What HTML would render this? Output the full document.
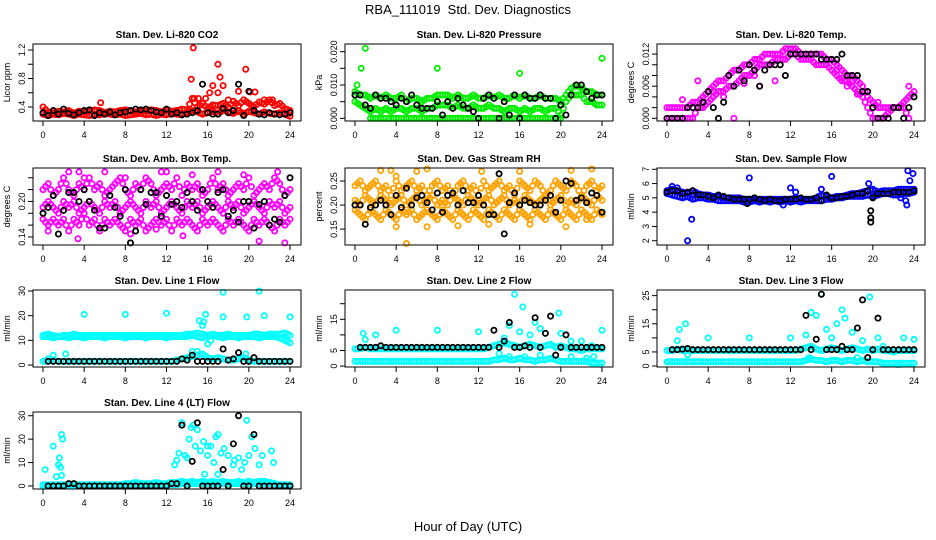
<!DOCTYPE html>
<html><head><meta charset="utf-8"><style>
body{margin:0;background:#fff;}
svg{display:block;font-family:"Liberation Sans",sans-serif;}
</style></head><body>
<svg id="chart" width="936" height="540" viewBox="0 0 936 540">
<text x="468" y="14" text-anchor="middle" font-size="13" style="white-space:pre">RBA_111019  Std. Dev. Diagnostics</text>
<text x="468" y="531" text-anchor="middle" font-size="13">Hour of Day (UTC)</text>
</svg>
<script>
// ---- data (values at 0.5 h steps, index i -> hour i*0.5) ----
const xTicks=[0,4,8,12,16,20,24];
const co2Red1=[0.4,0.33,0.32,0.34,0.33,0.35,0.31,0.34,0.33,0.34,0.36,0.35,0.32,0.34,0.33,0.35,0.36,0.34,0.33,0.35,0.34,0.36,0.35,0.33,0.36,0.34,0.35,0.37,0.36,0.52,0.4,0.45,0.38,0.43,0.42,0.45,0.4,0.48,0.42,0.5,0.45,0.4,0.47,0.44,0.5,0.42,0.45,0.38,0.35];
const co2Red2=[0.3,0.28,0.3,0.29,0.31,0.3,0.28,0.3,0.29,0.28,0.3,0.29,0.31,0.3,0.29,0.3,0.28,0.29,0.3,0.31,0.29,0.3,0.28,0.3,0.29,0.31,0.3,0.29,0.32,0.35,0.33,0.3,0.32,0.34,0.3,0.36,0.33,0.31,0.35,0.3,0.34,0.32,0.3,0.33,0.31,0.3,0.32,0.3,0.27];
const co2RedOut=[[14.6,1.23],[14.4,0.79],[14.7,0.52],[15.1,0.52],[15.8,0.52],[16.2,0.6],[16.5,0.7],[17,1.0],[17.2,0.82],[17.5,0.7],[17,0.6],[19,0.62],[19.7,0.93],[20.1,0.61],[20.6,0.61],[5.6,0.46],[21.5,0.5],[22.3,0.5],[18,0.5]];
const co2Black=[0.32,0.28,0.35,0.3,0.37,0.31,0.29,0.32,0.35,0.36,0.28,0.32,0.3,0.33,0.29,0.32,0.33,0.35,0.37,0.36,0.37,0.35,0.33,0.32,0.37,0.3,0.32,0.29,0.3,0.32,0.35,0.72,0.32,0.3,0.3,0.38,0.32,0.35,0.72,0.28,0.62,0.35,0.3,0.29,0.32,0.3,0.29,0.3,0.32];

const presGreen1=[0.008,0.007,0.007,0.006,0.007,0.006,0.007,0.006,0.006,0.007,0.005,0.006,0.006,0.005,0.006,0.006,0.007,0.007,0.007,0.006,0.007,0.006,0.006,0.007,0.006,0.006,0.007,0.006,0.007,0.006,0.006,0.007,0.006,0.007,0.006,0.006,0.007,0.006,0.006,0.006,0.005,0.007,0.009,0.010,0.009,0.008,0.008,0.007,0.007];
const presGreen2=[0.005,0.004,0.003,0.002,0.003,0.002,0.003,0.002,0.003,0.003,0.002,0.003,0.003,0.002,0.003,0.003,0.004,0.004,0.004,0.003,0.004,0.003,0.003,0.004,0.003,0.003,0.004,0.003,0.003,0.002,0.003,0.003,0.002,0.003,0.002,0.003,0.003,0.002,0.003,0.003,0.001,0.005,0.007,0.007,0.007,0.005,0.005,0.004,0.004];
const presGreen3=[null,null,null,0,0,0,0,0,0,0,0,0,0,0,0,0,0,0,0,0,0,0,0,0,0,0,0,0,0,0,0,0,0,0,0,0,0,0,0,0,0,null,null,null,null,null,null,null,null];
const presGreenOut=[[0.2,0.01],[0.6,0.015],[1,0.021],[8,0.015],[16,0.0135],[24,0.018]];
const presBlack=[0.007,0.007,0.004,0.003,0.007,0.006,0.006,0.005,0.004,0.006,0.005,0.007,0.004,0.003,0.003,0.003,0.005,0.001,0.005,0.003,0.006,0.004,0.003,0.002,0.000,0.006,0.007,0.006,0.000,0.005,0.001,0.007,0.000,0.007,0.006,0.006,0.007,0.006,0.006,0.000,0.004,0.001,0.007,0.010,0.010,0.008,0.006,0.007,0.007];

const tempMag1=[0.002,0.002,0.002,0.002,0.002,0.003,0.003,0.004,0.005,0.006,0.007,0.007,0.008,0.009,0.009,0.010,0.010,0.011,0.011,0.012,0.012,0.012,0.012,0.013,0.013,0.013,0.012,0.012,0.012,0.012,0.012,0.011,0.011,0.010,0.009,0.008,0.008,0.007,0.006,0.004,0.003,0.002,0.002,0.002,0.002,0.002,0.003,0.004,0.005];
const tempMag2=[0,0,0,0,0,0,0.002,0.002,0.003,0.004,0.005,0.005,0.006,0.006,0.007,0.008,0.008,0.009,0.010,0.010,0.010,0.011,0.011,0.011,0.012,0.012,0.011,0.011,0.011,0.010,0.010,0.010,0.009,0.008,0.007,0.007,0.006,0.005,0.004,0.002,0,0,0,0.001,0.002,0.002,0.002,0,null];
const tempMagOut=[[1.5,0.0035],[3,0.007],[6.5,0],[9,0.006],[10.5,0.007],[17.5,0.006],[18.5,0.0045],[20.5,0.003],[23.5,0.006],[4.5,0.005],[5.5,0.004],[7.5,0.0065],[8.5,0.008],[16.5,0.009],[17,0.0075],[18,0.007],[19,0.005]];
const tempBlack=[0.000,0.000,0.000,0.000,0.002,0.002,0.002,0.003,0.005,0.002,0.000,0.003,0.008,0.006,0.009,0.007,0.010,0.009,0.006,0.009,0.010,0.010,0.010,0.008,0.012,0.012,0.012,0.012,0.012,0.012,0.011,0.011,0.011,0.011,0.012,0.008,0.008,0.008,0.005,0.005,0.002,0.000,0.000,0.000,0.002,0.002,0.000,0.002,0.004];

const ambMag1=[0.22,0.23,0.21,0.22,0.24,0.22,0.21,0.23,0.22,0.24,0.22,0.23,0.21,0.22,0.23,0.24,0.22,0.21,0.23,0.22,0.24,0.23,0.21,0.22,0.23,0.22,0.24,0.21,0.23,0.22,0.23,0.21,0.22,0.24,0.22,0.23,0.21,0.22,0.23,0.22,0.24,0.21,0.22,0.23,0.22,0.24,0.23,0.21,0.22];
const ambMag2=[0.19,0.2,0.19,0.18,0.2,0.19,0.2,0.18,0.19,0.2,0.19,0.18,0.2,0.19,0.2,0.18,0.19,0.2,0.19,0.18,0.2,0.19,0.2,0.18,0.19,0.2,0.19,0.18,0.2,0.19,0.2,0.18,0.19,0.2,0.19,0.18,0.2,0.19,0.2,0.18,0.19,0.2,0.19,0.18,0.2,0.19,0.2,0.18,0.19];
const ambMag3=[0.17,0.16,0.17,0.16,0.17,0.15,0.17,0.16,0.18,0.16,0.17,0.15,0.17,0.16,0.17,0.16,0.15,0.17,0.16,0.17,0.15,0.16,0.17,0.16,0.17,0.15,0.17,0.16,0.17,0.16,0.15,0.17,0.16,0.17,0.16,0.15,0.17,0.16,0.17,0.16,0.15,0.17,0.16,0.17,0.16,0.15,0.17,0.16,0.17];
const ambMagOut=[[0.5,0.15],[2.5,0.25],[3.5,0.25],[4,0.24],[6,0.25],[8,0.24],[11.5,0.25],[12,0.25],[14.5,0.245],[17,0.25],[19.5,0.245],[22.8,0.25],[3.4,0.137],[21,0.133],[23.5,0.13],[13.6,0.142],[8.5,0.145],[11,0.153]];
const ambBlack=[0.18,0.19,0.21,0.145,0.185,0.215,0.215,0.2,0.22,0.2,0.185,0.155,0.155,0.21,0.19,0.175,0.22,0.13,0.15,0.22,0.195,0.215,0.215,0.175,0.21,0.195,0.2,0.19,0.215,0.2,0.185,0.22,0.2,0.19,0.215,0.22,0.175,0.185,0.165,0.2,0.2,0.155,0.195,0.2,0.16,0.17,0.165,0.21,0.24];

const rhOr1=[0.24,0.25,0.23,0.24,0.25,0.23,0.24,0.22,0.25,0.23,0.24,0.25,0.23,0.24,0.22,0.24,0.25,0.23,0.24,0.22,0.24,0.25,0.23,0.24,0.22,0.25,0.23,0.24,0.25,0.23,0.24,0.22,0.25,0.24,0.23,0.25,0.24,0.22,0.23,0.25,0.24,0.23,0.25,0.24,0.22,0.24,0.25,0.23,0.24];
const rhOr2=[0.21,0.2,0.22,0.21,0.2,0.22,0.21,0.2,0.21,0.22,0.2,0.21,0.22,0.2,0.21,0.22,0.2,0.21,0.2,0.22,0.21,0.2,0.22,0.21,0.2,0.21,0.22,0.2,0.21,0.22,0.2,0.21,0.2,0.22,0.21,0.2,0.21,0.22,0.2,0.21,0.22,0.2,0.21,0.2,0.22,0.21,0.2,0.22,0.21];
const rhOr3=[0.19,0.18,0.17,0.19,0.18,0.17,0.19,0.18,0.17,0.19,0.18,0.19,0.17,0.18,0.19,0.18,0.17,0.19,0.18,0.17,0.19,0.18,0.17,0.19,0.18,0.17,0.19,0.18,0.17,0.19,0.18,0.17,0.19,0.18,0.17,0.19,0.18,0.17,0.19,0.18,0.17,0.19,0.18,0.17,0.19,0.18,0.17,0.19,0.18];
const rhOrOut=[[2.5,0.272],[3.5,0.272],[4,0.26],[6,0.27],[7,0.275],[12.3,0.27],[16,0.27],[21,0.272],[23,0.275],[5,0.12],[4,0.155],[7,0.155],[10,0.157],[13,0.16],[17,0.16],[20.5,0.155],[22.5,0.17]];
const rhBlack=[0.2,0.2,0.16,0.195,0.2,0.21,0.2,0.18,0.22,0.195,0.235,0.2,0.215,0.22,0.205,0.19,0.225,0.185,0.22,0.225,0.2,0.23,0.205,0.205,0.22,0.2,0.18,0.18,0.265,0.14,0.205,0.225,0.2,0.21,0.205,0.2,0.2,0.21,0.22,0.185,0.21,0.25,0.245,0.21,0.215,0.205,0.225,0.22,0.185];

const sfBlue1=[5.5,5.6,5.5,5.4,5.3,5.5,5.3,5.2,5.2,5.1,5.1,5.0,5.0,5.0,5.0,4.9,4.9,4.9,4.9,4.9,4.9,4.9,4.9,4.9,4.9,5.0,4.9,4.9,4.9,5.0,5.2,5.1,5.0,5.1,5.1,5.2,5.3,5.3,5.4,5.5,5.6,5.4,5.5,5.5,5.5,5.6,5.6,5.6,5.6];
const sfBlue2=[5.3,5.2,5.1,5.0,5.1,4.9,5.0,5.0,4.9,4.9,4.8,4.8,4.8,4.8,4.8,4.7,4.7,4.8,4.7,4.8,4.7,4.8,4.7,4.8,4.7,4.8,4.7,4.8,4.8,4.8,4.8,4.9,4.9,5.0,5.0,5.1,5.1,5.1,5.1,5.2,5.1,5.2,5.3,5.3,5.2,5.2,5.3,5.3,5.4];
const sfBlueOut=[[2,2.0],[2.4,3.5],[8,6.4],[12,5.7],[12.5,5.4],[16,6.5],[19.6,6.0],[23.4,6.9],[23.9,6.7],[23.6,6.2],[23.2,4.8],[23.3,4.5],[22.7,5.0],[11.3,4.5],[0.5,5.8],[1,5.7],[15,5.6]];
const sfBlack=[5.4,5.5,5.5,5.3,5.4,5.5,5.2,5.2,5.1,5.0,5.2,5.1,5.0,4.9,4.9,4.9,4.9,5.0,4.9,4.8,4.9,4.8,4.8,4.9,4.9,4.9,5.0,4.9,4.9,5.0,4.8,5.2,5.0,5.0,5.1,5.1,5.2,5.3,5.3,5.5,5.0,5.3,5.3,5.3,5.4,5.4,5.4,5.4,5.5];
const sfBlackOut=[[19.8,4.1],[19.8,3.6],[19.8,3.3],[7.8,4.6]];

const l1Cyan1=[12,12.5,12,11.5,12,12,12.5,12,12,12,12,12,12,12,12,12,12,12,12,12,12,12,12,12,12,12,12,12,12.5,12.5,13,12.5,12,12.5,12,12,12.5,12,12,12,12,12.5,12.5,12,12.5,12.5,12.5,13,12];
const l1Cyan2=[11.5,11.5,11,11.5,11.5,11,11.5,11.5,11,11.5,11.5,11.5,11,11.5,11.5,11.5,11,11.5,11.5,11.5,11,11.5,11.5,11.5,11,11.5,11.5,11.5,11.5,12,11.5,11,11.5,12,11.5,11,11.5,11.5,11,11.5,11.5,11.5,11,11.5,11.5,11.5,11,10,9];
const l1Cyan3=[1.5,1.5,2,1.5,1.5,1.5,1.5,1.5,1.5,1.5,1.5,1.5,1.5,1.5,1.5,1.5,1.5,1.5,1.5,1.5,1.5,1.5,1.5,1.5,1.5,1.5,2,2.5,3,3.5,4,4.5,3,2.5,3,2.5,2,2,2.5,3,2,1.5,1.5,1.5,1.5,1.5,1.5,1.5,1.5];
const l1CyanOut=[[4,20.5],[8,20.5],[12,21],[21.5,20],[24,19.5],[17.5,29.5],[21,30],[15.2,18],[15.5,16],[15.8,20.5],[16,8.5],[17.5,19.5],[19.8,19.5],[15.6,17.5],[16.3,10],[0.5,2.5],[1,4],[2.2,4.5],[14.5,5.5],[15,5.5],[19.7,4.5]];
const l1Black=[null,1.5,1.5,1.5,1.5,1.5,1.5,1.5,1.5,1.5,1.5,1.5,1.5,1.5,1.5,1.5,1.5,1.5,1.5,1.5,1.5,1.5,1.5,1.5,1.5,1.5,1.5,2.5,2,4,1.5,1.5,1.5,1.5,1.5,6.5,2,2.5,5,1.5,1.5,3,1.5,1.5,1.5,1.5,1.5,1.5,1.5];

const l2Cyan1=[5.5,5.5,6,5.5,5.5,5.5,5.5,5.5,5.5,5.5,5.5,5.5,5.5,5.5,5.5,5.5,5.5,5.5,5.5,5.5,5.5,5.5,5.5,5.5,5.5,5.5,6,6.5,7,7.5,7,6.5,6,6.5,7,6.5,6,6.5,7,6,6.5,6,5.5,5.5,5,5.5,5.5,5.5,5.5];
const l2Cyan2=[1.5,1.5,1.5,1.5,1.5,1.5,1.5,1.5,1.5,1.5,1.5,1.5,1.5,1.5,1.5,1.5,1.5,1.5,1.5,1.5,1.5,1.5,1.5,1.5,1.5,1.5,1.5,2,2,2.5,2,2,2.5,2,2,1.5,2,2,2.5,2,1.5,1.5,1.5,1.5,1.5,1.5,1,1,1];
const l2CyanOut=[[0.8,10.5],[1,8.5],[2,10],[4,11.5],[8,11.5],[12,11],[15.5,23],[16.3,19],[17.5,14],[19.8,17],[24,11.5],[15,13],[16,11],[14.5,9],[17,10],[18,12],[20,10.5],[21,8],[22,8],[23,6.5],[14,4],[15,3],[16.5,3],[18,3.5],[21,3],[22.5,2.5],[23.2,3]];
const l2Black=[null,6,6,6,6,6.5,6,6,6,6,6,6,6,6,6,6,6,6,6,6,6,6,6,6,6,6,6,11.5,6,8,14,6,6,6.5,6,15.5,6,10.5,16,3.5,6,10,6,6,6,6,6,6,6];

const l3Cyan1=[5.5,5.5,6,5.5,5.5,5.5,5.5,5.5,5.5,5.5,5.5,5.5,5.5,5.5,5.5,5.5,5.5,5.5,5.5,5.5,5.5,5.5,5.5,5.5,5.5,5.5,6,6.5,7,6,5.5,6,6.5,6,5.5,6,6.5,6,5.5,6,5.5,6,5.5,5.5,5,5.5,5.5,5.5,5.5];
const l3Cyan2=[1.5,1.5,1.5,1.5,1.5,1.5,1.5,1.5,1.5,1.5,1.5,1.5,1.5,1.5,1.5,1.5,1.5,1.5,1.5,1.5,1.5,1.5,1.5,1.5,1.5,1.5,1.5,2,2.5,2,2,1.5,2,2,1.5,2,2,1.5,2,1.5,1.5,1.5,1,1,1,1,1,1,1];
const l3CyanOut=[[1.2,13],[1.8,15],[4,10],[8,10],[12,10],[13.5,11],[14,19],[14.5,18],[15,25.5],[16.5,15],[17,20],[17.3,17],[19.7,24.5],[18,12],[19,9],[20.5,10],[21,7],[23,10],[24,9.5],[15.5,13],[16,10],[13.8,3],[16,2],[18.5,3],[21,1],[22.5,0.5],[1,9],[2,4]];
const l3Black=[null,5.8,5.8,6,6.2,5.8,5.8,5.8,5.8,5.8,5.8,5.8,5.8,5.8,5.8,5.8,5.8,5.8,5.8,5.8,5.8,5.8,5.8,5.8,5.8,5.8,5.8,18,5.8,9.5,25.5,5.8,5.8,5.8,7,5.8,5.8,13.5,23.5,3,5.8,17,5.8,5.8,5.8,5.8,5.8,5.8,5.8];

const l4Cyan1=[0.5,0.5,0.5,0.5,0.5,0.5,0.5,0.5,0.5,0.5,0.5,0.5,0.5,0.5,0.5,0.5,0.5,0.5,0.5,0.5,0.5,0.5,0.5,0.5,0.5,0.5,0.5,1,1,1,1,1,1,1,1,1,1,1,1,1,1,1,1,1,1,1,0.5,0.5,0.5];
const l4Cyan2=[0,0,0,0,0,0,0,0,0,0,0,0,0,0,0,0.5,1,1,1.5,1,1,1,1.5,1,1,1.5,1.5,2,1.5,2,1.5,2,1.5,2,1.5,2,1.5,1.5,2,1.5,2,1.5,2,2,1.5,1,0,0,0];
const l4CyanOut=[[0.2,7],[1,17],[1.3,4],[1.5,9],[1.6,12],[1.7,8],[1.8,22],[1.9,20],[1.8,4.5],[13.2,14],[13.5,27],[13.8,13],[14,12],[14.2,20],[14.4,25],[14.6,26],[14.8,17],[15,24],[15.3,15],[15.6,19],[15.7,5],[16,13],[16.3,17],[16.6,10],[16.8,21],[17,5],[17.3,14],[17.6,16],[18,13],[18.5,9],[19,12],[19.3,7],[19.6,10],[20,13],[20.3,21],[20.6,16],[21,9],[21.3,13],[22.2,15],[22.4,10],[12.8,9],[13,11],[16,17],[17,22],[19.8,28],[18.6,11]];
const l4Black=[null,0,0,0,0,1,1,0,0,0,0,0,0,0,0,0,0,0,0,0,0,0,0,0,0,1,1,26,0,10.5,27,0,0,0,0,7,0,18,30,0,0,22,0,0,0,0,0,0,0];

// ---- layout ----
const svg=document.getElementById('chart');
const NS='http://www.w3.org/2000/svg';
const colLeft=[33,345,657], rowTop=[44,168,290,412], PW=268, PH=77;
function mk(tag,attrs,parent){const e=document.createElementNS(NS,tag);for(const k in attrs)e.setAttribute(k,attrs[k]);(parent||svg).appendChild(e);return e;}

const panels=[
 {title:'Stan. Dev. Li-820 CO2',ylab:'Licor ppm',r:0,c:0,ymin:0.2035,ymax:1.284,ticks:[0.4,0.6,0.8,1.0,1.2],labels:{0.4:'0.4',0.8:'0.8',1.2:'1.2'},
  series:[[co2Red1,'#ff0000'],[co2Red2,'#ff0000']],outs:[[co2RedOut,'#ff0000']],black:co2Black,blackOut:[]},
 {title:'Stan. Dev. Li-820 Pressure',ylab:'kPa',r:0,c:1,ymin:-0.0008,ymax:0.0223,ticks:[0,0.005,0.01,0.015,0.02],labels:{0:'0.000',0.01:'0.010',0.02:'0.020'},
  series:[[presGreen1,'#00ee00'],[presGreen2,'#00ee00'],[presGreen3,'#00ee00']],outs:[[presGreenOut,'#00ee00']],black:presBlack,blackOut:[]},
 {title:'Stan. Dev. Li-820 Temp.',ylab:'degrees C',r:0,c:2,ymin:-0.0005,ymax:0.01388,ticks:[0,0.002,0.004,0.006,0.008,0.010,0.012],labels:{0:'0.000',0.006:'0.006',0.012:'0.012'},
  series:[[tempMag1,'#ff00ff'],[tempMag2,'#ff00ff']],outs:[[tempMagOut,'#ff00ff']],black:tempBlack,blackOut:[]},
 {title:'Stan. Dev. Amb. Box Temp.',ylab:'degrees C',r:1,c:0,ymin:0.1264,ymax:0.2565,ticks:[0.14,0.16,0.18,0.2,0.22,0.24],labels:{0.14:'0.14',0.2:'0.20'},
  series:[[ambMag1,'#ff00ff'],[ambMag2,'#ff00ff'],[ambMag3,'#ff00ff']],outs:[[ambMagOut,'#ff00ff']],black:ambBlack,blackOut:[]},
 {title:'Stan. Dev. Gas Stream RH',ylab:'percent',r:1,c:1,ymin:0.117,ymax:0.277,ticks:[0.15,0.2,0.25],labels:{0.15:'0.15',0.2:'0.20',0.25:'0.25'},
  series:[[rhOr1,'#ffa200'],[rhOr2,'#ffa200'],[rhOr3,'#ffa200']],outs:[[rhOrOut,'#ffa200']],black:rhBlack,blackOut:[]},
 {title:'Stan. Dev. Sample Flow',ylab:'ml/min',r:1,c:2,ymin:1.7,ymax:7.09,ticks:[2,3,4,5,6,7],labels:{2:'2',3:'3',4:'4',5:'5',6:'6',7:'7'},
  series:[[sfBlue1,'#0000ff'],[sfBlue2,'#0000ff']],outs:[[sfBlueOut,'#0000ff']],black:sfBlack,blackOut:sfBlackOut},
 {title:'Stan. Dev. Line 1 Flow',ylab:'ml/min',r:2,c:0,ymin:-0.8,ymax:30.4,ticks:[0,10,20,30],labels:{0:'0',10:'10',20:'20',30:'30'},
  series:[[l1Cyan1,'#00ffff'],[l1Cyan2,'#00ffff'],[l1Cyan3,'#00ffff']],outs:[[l1CyanOut,'#00ffff']],black:l1Black,blackOut:[]},
 {title:'Stan. Dev. Line 2 Flow',ylab:'ml/min',r:2,c:1,ymin:-0.3,ymax:24.4,ticks:[0,5,10,15,20],labels:{0:'0',5:'5',15:'15'},
  series:[[l2Cyan1,'#00ffff'],[l2Cyan2,'#00ffff']],outs:[[l2CyanOut,'#00ffff']],black:l2Black,blackOut:[]},
 {title:'Stan. Dev. Line 3 Flow',ylab:'ml/min',r:2,c:2,ymin:-0.35,ymax:27,ticks:[0,5,10,15,20,25],labels:{0:'0',5:'5',15:'15',25:'25'},
  series:[[l3Cyan1,'#00ffff'],[l3Cyan2,'#00ffff']],outs:[[l3CyanOut,'#00ffff']],black:l3Black,blackOut:[]},
 {title:'Stan. Dev. Line 4 (LT) Flow',ylab:'ml/min',r:3,c:0,ymin:-1.3,ymax:31.6,ticks:[0,10,20,30],labels:{0:'0',10:'10',20:'20',30:'30'},
  series:[[l4Cyan1,'#00ffff'],[l4Cyan2,'#00ffff']],outs:[[l4CyanOut,'#00ffff']],black:l4Black,blackOut:[]}
];

panels.forEach((p,pi)=>{
  const L=colLeft[p.c], T=rowTop[p.r];
  const g=mk('g',{});
  
  
  const xs=h=>L+10+h*(247/24);
  const ys=v=>T+PH-(v-p.ymin)/(p.ymax-p.ymin)*PH;
  const t=mk('text',{x:L+PW/2,y:T-6,'text-anchor':'middle','font-size':'10','font-weight':'bold'},g);
  t.textContent=p.title;
  
  
  const yl=mk('text',{transform:`translate(${L-23},${T+PH/2}) rotate(-90)`,'text-anchor':'middle','font-size':'9'},g);
  yl.textContent=p.ylab;
  
  
  const plot=mk('g',{},g);
  function dot(x,y,col){
    const c=mk('circle',{cx:x,cy:y,r:2.6,fill:'none',stroke:col,'stroke-width':1.8},plot);
    
    
  }
  p.series.forEach(([arr,col])=>arr.forEach((v,i)=>{if(v!==null)dot(xs(i*0.5),ys(v),col);}));
  p.series.forEach(([arr,col])=>arr.forEach((v,i)=>{if(v!==null&&i<48){const nv=arr[i+1];if(nv!==null)dot(xs(i*0.5+0.25),ys((v+nv)/2),col);}}));
  p.outs.forEach(([arr,col])=>arr.forEach(([h,v])=>dot(xs(h),ys(v),col)));
  p.black.forEach((v,i)=>{if(v!==null)dot(xs(i*0.5),ys(v),'#000');});
  p.blackOut.forEach(([h,v])=>dot(xs(h),ys(v),'#000'));
  const box=mk('rect',{x:L,y:T,width:PW,height:PH,fill:'none',stroke:'#000','stroke-width':1},g);
  
  
  mk('line',{x1:xs(0),x2:xs(24),y1:T+PH,y2:T+PH,stroke:'#000'},g);
  xTicks.forEach(h=>{
    mk('line',{x1:xs(h),x2:xs(h),y1:T+PH,y2:T+PH+5,stroke:'#000'},g);
    const tl=mk('text',{x:xs(h),y:T+PH+17,'text-anchor':'middle','font-size':'9'},g);
    tl.textContent=h;
    
    
  });
  mk('line',{x1:L,x2:L,y1:ys(p.ticks[0]),y2:ys(p.ticks[p.ticks.length-1]),stroke:'#000'},g);
  p.ticks.forEach(v=>{
    mk('line',{x1:L-5,x2:L,y1:ys(v),y2:ys(v),stroke:'#000'},g);
    const lab=p.labels[v];
    if(lab!==undefined){
      const tl=mk('text',{transform:`translate(${L-8},${ys(v)}) rotate(-90)`,'text-anchor':'middle','font-size':'9'},g);
      tl.textContent=lab;
      
      
    }
  });
});
</script>
</body></html>
